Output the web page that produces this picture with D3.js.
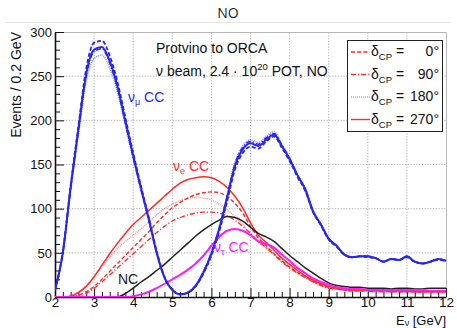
<!DOCTYPE html>
<html>
<head>
<meta charset="utf-8">
<script src="https://cdn.jsdelivr.net/npm/d3@7"></script>
<style>
  body { margin: 0; background: #fff; }
  svg { display: block; font-family: "Liberation Sans", Arial, sans-serif; }
</style>
</head>
<body>
<svg id="chart" width="457" height="328"></svg>
<script>
// Reconstructed neutrino energy bins (GeV), bin width 0.2 GeV
const energy = [2.0, 2.2, 2.4, 2.6, 2.8, 3.0, 3.2, 3.4, 3.6, 3.8,
  4.0, 4.2, 4.4, 4.6, 4.8, 5.0, 5.2, 5.4, 5.6, 5.8,
  6.0, 6.2, 6.4, 6.6, 6.8, 7.0, 7.2, 7.4, 7.6, 7.8,
  8.0, 8.2, 8.4, 8.6, 8.8, 9.0, 9.2, 9.4, 9.6, 9.8,
  10.0, 10.2, 10.4, 10.6, 10.8, 11.0, 11.2, 11.4, 11.6, 11.8, 12.0];

// nu_mu CC events for each delta_CP
const numu0 = [8, 51, 126, 194, 259, 288, 290, 273, 243, 203, 163, 125, 90, 52, 23, 8, 3, 5, 12, 27, 47, 74, 108, 144, 163, 170, 168, 176, 182, 169, 154, 136, 120, 96, 81, 65, 57, 48, 45, 46, 45, 44, 40, 43, 42, 45, 40, 38, 40, 42, 41];
const numu90 = [8, 50, 123, 189, 251, 278, 281, 265, 236, 197, 158, 122, 87, 50, 22, 8, 3, 5, 13, 29, 50, 78, 113, 150, 169, 176, 173, 180, 185, 172, 157, 138, 122, 97, 82, 66, 58, 48, 45, 46, 46, 44, 40, 43, 42, 46, 40, 38, 40, 43, 41];
const numu180 = [8, 49, 121, 185, 245, 270, 274, 259, 232, 194, 156, 120, 86, 49, 22, 8, 3, 6, 14, 30, 51, 80, 115, 152, 171, 178, 175, 182, 187, 173, 158, 139, 123, 98, 83, 66, 58, 49, 45, 46, 46, 44, 40, 43, 42, 46, 40, 38, 40, 43, 41];
const numu270 = [8, 50, 124, 190, 253, 280, 283, 267, 238, 199, 160, 123, 88, 50, 22, 8, 3, 5, 13, 28, 49, 77, 112, 148, 167, 174, 171, 178, 184, 171, 156, 138, 122, 97, 82, 66, 58, 48, 45, 46, 46, 44, 40, 43, 42, 46, 40, 38, 40, 43, 41];

// nu_e CC events for each delta_CP
const nue0 = [0, 0, 0, 2, 6, 12, 20, 29, 38, 47, 56, 65, 74, 84, 93, 101, 107, 112, 116, 118, 119, 118, 114, 106, 95, 80, 67, 58, 49, 41, 34, 28, 23, 18, 14, 11, 9, 8, 7, 7, 7, 7, 7, 6, 6, 6, 6, 6, 6, 6, 6];
const nue90 = [0, 0, 0, 1, 4, 10, 17, 25, 33, 41, 49, 57, 65, 73, 80, 86, 90, 93, 95, 96, 96, 95, 92, 87, 80, 72, 63, 56, 48, 40, 33, 27, 22, 17, 13, 10, 9, 8, 7, 7, 7, 6, 6, 6, 6, 6, 6, 6, 6, 6, 6];
const nue180 = [0, 0, 2, 6, 13, 23, 34, 45, 55, 63, 70, 77, 85, 93, 100, 105, 109, 112, 113, 112, 110, 105, 99, 91, 82, 72, 62, 55, 48, 40, 33, 27, 22, 17, 13, 10, 9, 8, 7, 7, 7, 6, 6, 6, 6, 6, 6, 6, 6, 6, 6];
const nue270 = [0, 0, 1, 5, 12, 23, 36, 49, 61, 72, 82, 90, 98, 106, 114, 122, 129, 133, 135, 136, 135, 131, 124, 114, 101, 84, 70, 62, 53, 44, 37, 30, 24, 19, 15, 12, 10, 9, 8, 8, 8, 7, 7, 7, 7, 7, 6, 6, 6, 6, 6];

// Neutral current and nu_tau CC backgrounds
const nc = [0, 0, 0, 0, 0, 0, 0, 0, 0, 4, 10, 17, 23, 30, 37, 45, 53, 61, 69, 76, 82, 87, 91, 90, 86, 79, 72, 68, 63, 55, 47, 40, 33, 27, 21, 16, 13, 12, 11, 11, 10, 10, 10, 9, 10, 10, 9, 9, 10, 10, 10];
const nutau = [0, 0, 0, 0, 0, 0, 0, 0, 0, 0, 1, 3, 6, 10, 15, 20, 25, 31, 38, 47, 58, 68, 75, 77, 75, 70, 63, 60, 56, 48, 41, 33, 27, 21, 17, 14, 11, 10, 9, 9, 8, 8, 8, 8, 8, 8, 8, 8, 7, 7, 7];

// Axis ticks
const xMajor = [2, 3, 4, 5, 6, 7, 8, 9, 10, 11, 12];
const yMajor = [0, 50, 100, 150, 200, 250, 300];
const legendLabels = ["0°", "90°", "180°", "270°"];

const svg = d3.select("#chart");
const x = d3.scaleLinear().domain([2, 12]).range([55, 446]);
const y = d3.scaleLinear().domain([0, 300]).range([297, 32]);

// Title and separator
svg.append("text").attr("x", 228).attr("y", 18).attr("text-anchor", "middle")
  .attr("font-family", "'Open Sans', sans-serif")
  .attr("font-size", 14).attr("fill", "#1a1a1a").text("NO");
svg.append("line").attr("x1", 6).attr("x2", 451).attr("y1", 22.5).attr("y2", 22.5)
  .attr("stroke", "#e4e4e4").attr("stroke-width", 1);

// Grid
const grid = svg.append("g").attr("stroke", "#9a9a9a").attr("stroke-width", 0.8).attr("stroke-dasharray", "1.2,1.6");
xMajor.slice(1, -1).forEach(v => grid.append("line").attr("x1", x(v)).attr("x2", x(v)).attr("y1", y(0)).attr("y2", y(300)));
yMajor.slice(1, -1).forEach(v => grid.append("line").attr("x1", x(2)).attr("x2", x(12)).attr("y1", y(v)).attr("y2", y(v)));

// Frame (top / right)
svg.append("path").attr("d", `M${x(2)},${y(300) + 0.5}H${x(12) + 0.5}V${y(0)}`)
  .attr("fill", "none").attr("stroke", "#b8b8b8").attr("stroke-width", 1);

// Axes
const xMinor = d3.range(2, 12.001, 0.2).filter(v => Math.abs(v - Math.round(v)) > 1e-6);
const yMinor = d3.range(0, 300.1, 10).filter(v => v % 50 !== 0);

function styleAxis(g, fs) {
  g.select(".domain").attr("stroke", "#111").attr("stroke-width", 1.6);
  g.selectAll(".tick line").attr("stroke", "#111").attr("stroke-width", 1);
  g.selectAll(".tick text").attr("fill", "#111").attr("font-size", fs);
}

const gx = svg.append("g").attr("transform", `translate(0,${y(0)})`)
  .call(d3.axisBottom(x).tickValues(xMajor).tickSizeInner(-9).tickSizeOuter(0).tickPadding(0).tickFormat(d3.format("d")));
styleAxis(gx, 13.5);
svg.append("g").attr("transform", `translate(0,${y(0)})`)
  .call(d3.axisBottom(x).tickValues(xMinor).tickSizeInner(-5).tickSizeOuter(0).tickFormat(""))
  .call(g => { g.select(".domain").remove(); g.selectAll("line").attr("stroke", "#111"); });

const gy = svg.append("g").attr("transform", `translate(${x(2)},0)`)
  .call(d3.axisLeft(y).tickValues(yMajor).tickSizeInner(-9).tickSizeOuter(0).tickPadding(3));
styleAxis(gy, 13);
svg.append("g").attr("transform", `translate(${x(2)},0)`)
  .call(d3.axisLeft(y).tickValues(yMinor).tickSizeInner(-5).tickSizeOuter(0).tickFormat(""))
  .call(g => { g.select(".domain").remove(); g.selectAll("line").attr("stroke", "#111"); });

// Axis titles
svg.append("text").attr("transform", `translate(21,${y(300)}) rotate(-90)`).attr("text-anchor", "end")
  .attr("font-size", 14).attr("fill", "#111").text("Events / 0.2 GeV");
const xt = svg.append("text").attr("x", x(12)).attr("y", 325).attr("text-anchor", "end").attr("font-size", 13).attr("fill", "#111");
xt.append("tspan").text("E");
xt.append("tspan").attr("font-size", 9).attr("dy", 1).text("ν");
xt.append("tspan").attr("dy", -1).text(" [GeV]");

// Curves
svg.append("defs").append("clipPath").attr("id", "plot")
  .append("rect").attr("x", x(2)).attr("y", y(300)).attr("width", x(12) - x(2)).attr("height", y(0) - y(300));
const plot = svg.append("g").attr("clip-path", "url(#plot)");
const line = d3.line().x((d, i) => x(energy[i])).y(d => y(d)).curve(d3.curveMonotoneX);

const styles = {
  dash: { dash: "4,2.2", op: 1 },
  dashdot: { dash: "5,2,1.2,2", op: 1 },
  dot: { dash: "1,1", op: 0.55 },
  solid: { dash: null, op: 1 }
};
function draw(data, color, width, st) {
  plot.append("path").datum(data).attr("d", line).attr("fill", "none")
    .attr("stroke", color).attr("stroke-width", width).attr("stroke-opacity", st.op)
    .attr("stroke-dasharray", st.dash).attr("stroke-linejoin", "round");
}
const red = "#ff2a2a", blue = "#2626f0", magenta = "#ff19ff", black = "#222";

draw(nue0, red, 1.4, styles.dash);
draw(nue90, red, 1.3, styles.dashdot);
draw(nue180, red, 1.4, styles.dot);
draw(nue270, red, 1.5, styles.solid);
draw(nc, black, 1.5, styles.solid);
draw(nutau, magenta, 2, styles.solid);
draw(numu0, blue, 1.8, styles.dash);
draw(numu90, blue, 1.6, styles.dashdot);
draw(numu180, blue, 1.6, styles.dot);
draw(numu270, blue, 2, styles.solid);

// Curve labels
function label(xp, yp, sub, color, text) {
  const t = svg.append("text").attr("x", xp).attr("y", yp).attr("font-size", 14).attr("fill", color);
  if (sub === null) { t.text(text); return; }
  t.append("tspan").text("ν");
  t.append("tspan").attr("font-size", 9).attr("dy", 3).text(sub);
  t.append("tspan").attr("dy", -3).text(" " + text);
}
label(128, 102, "μ", blue, "CC");
label(173, 171, "e", red, "CC");
label(214, 252, "τ", magenta, "CC");
label(118, 284, null, black, "NC");

// Info text
svg.append("text").attr("x", 156).attr("y", 53).attr("font-size", 14).attr("fill", "#111").text("Protvino to ORCA");
const info = svg.append("text").attr("x", 156).attr("y", 76).attr("font-size", 14).attr("fill", "#111");
info.append("tspan").text("ν beam, 2.4 · 10");
info.append("tspan").attr("font-size", 9.5).attr("dy", -6).text("20");
info.append("tspan").attr("dy", 6).text(" POT, NO");

// Legend
const lg = svg.append("g");
lg.append("rect").attr("x", 347.5).attr("y", 40.5).attr("width", 95).attr("height", 91)
  .attr("fill", "#fff").attr("stroke", "#222").attr("stroke-width", 1);
const legendStyles = [styles.dash, styles.dashdot, styles.dot, styles.solid];
legendLabels.forEach((lab, i) => {
  const yy = 52 + i * 22.5;
  lg.append("line").attr("x1", 351).attr("x2", 370).attr("y1", yy).attr("y2", yy)
    .attr("stroke", red).attr("stroke-width", 1.4).attr("stroke-opacity", legendStyles[i].op)
    .attr("stroke-dasharray", legendStyles[i].dash);
  const t = lg.append("text").attr("x", 371).attr("y", yy + 4).attr("font-size", 14).attr("fill", "#111");
  t.append("tspan").text("δ");
  t.append("tspan").attr("font-size", 9.5).attr("dy", 4).text("CP");
  t.append("tspan").attr("dy", -4).text(" =");
  lg.append("text").attr("x", 439).attr("y", yy + 4).attr("text-anchor", "end").attr("font-size", 14).attr("fill", "#111").text(lab);
});
</script>
</body>
</html>
